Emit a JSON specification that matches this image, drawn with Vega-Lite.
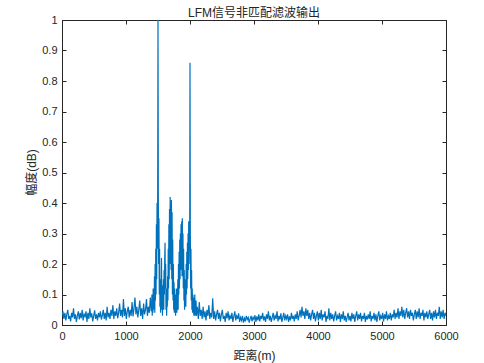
{
  "$schema": "https://vega.github.io/schema/vega-lite/v6.json",
  "width": 384,
  "height": 305,
  "autosize": {"type": "none"},
  "padding": {"left": 62, "top": 20, "right": 38, "bottom": 38},
  "background": "white",
  "title": {"text": "LFM信号非匹配滤波输出", "fontSize": 12, "font": "Liberation Sans, Noto Sans CJK SC", "fontWeight": "normal", "color": "#262626", "offset": 5, "dy": 11},
  "config": {
    "view": {"stroke": "#262626", "strokeWidth": 1},
    "axis": {"grid": false, "domainColor": "#262626", "tickColor": "#262626", "labelColor": "#262626", "titleColor": "#262626", "labelFont": "Liberation Sans", "titleFont": "Liberation Sans, Noto Sans CJK SC", "labelFontSize": 11, "titleFontSize": 12, "titleFontWeight": "normal", "tickSize": -4, "labelPadding": 9, "domainWidth": 1, "tickWidth": 1, "labelFlush": false}
  },
  "datasets": {
    "sig": [
{"x":0,"y":0.03},{"x":15,"y":0.045},{"x":30,"y":0.02},{"x":45,"y":0.04},{"x":60,"y":0.015},{"x":75,"y":0.035},{"x":90,"y":0.05},{"x":105,"y":0.02},{"x":120,"y":0.03},{"x":135,"y":0.012},{"x":150,"y":0.04},{"x":165,"y":0.025},{"x":180,"y":0.055},{"x":195,"y":0.02},{"x":210,"y":0.035},{"x":225,"y":0.01},{"x":240,"y":0.03},{"x":255,"y":0.045},{"x":270,"y":0.018},{"x":285,"y":0.04},{"x":300,"y":0.022},{"x":315,"y":0.05},{"x":330,"y":0.015},{"x":345,"y":0.035},{"x":360,"y":0.028},{"x":375,"y":0.045},{"x":390,"y":0.01},{"x":405,"y":0.04},{"x":420,"y":0.02},{"x":435,"y":0.055},{"x":450,"y":0.025},{"x":465,"y":0.038},{"x":480,"y":0.012},{"x":495,"y":0.03},{"x":510,"y":0.048},{"x":525,"y":0.02},{"x":540,"y":0.035},{"x":555,"y":0.015},{"x":570,"y":0.04},{"x":585,"y":0.025},{"x":600,"y":0.045},{"x":615,"y":0.018},{"x":630,"y":0.032},{"x":645,"y":0.05},{"x":660,"y":0.02},{"x":675,"y":0.04},{"x":690,"y":0.015},{"x":705,"y":0.06},{"x":720,"y":0.025},{"x":735,"y":0.04},{"x":750,"y":0.02},{"x":765,"y":0.05},{"x":780,"y":0.03},{"x":795,"y":0.065},{"x":810,"y":0.02},{"x":825,"y":0.045},{"x":840,"y":0.03},{"x":855,"y":0.055},{"x":870,"y":0.022},{"x":885,"y":0.04},{"x":900,"y":0.07},{"x":915,"y":0.03},{"x":930,"y":0.05},{"x":945,"y":0.025},{"x":960,"y":0.085},{"x":975,"y":0.03},{"x":990,"y":0.055},{"x":1005,"y":0.02},{"x":1020,"y":0.045},{"x":1035,"y":0.06},{"x":1050,"y":0.025},{"x":1065,"y":0.05},{"x":1080,"y":0.03},{"x":1095,"y":0.075},{"x":1110,"y":0.028},{"x":1125,"y":0.055},{"x":1140,"y":0.09},{"x":1155,"y":0.035},{"x":1170,"y":0.06},{"x":1185,"y":0.025},{"x":1200,"y":0.05},{"x":1215,"y":0.08},{"x":1230,"y":0.03},{"x":1245,"y":0.055},{"x":1260,"y":0.02},{"x":1275,"y":0.07},{"x":1290,"y":0.035},{"x":1305,"y":0.05},{"x":1320,"y":0.085},{"x":1335,"y":0.03},{"x":1350,"y":0.06},{"x":1365,"y":0.04},{"x":1380,"y":0.09},{"x":1395,"y":0.045},
{"x":1400,"y":0.05},{"x":1405,"y":0.1},{"x":1410,"y":0.03},{"x":1415,"y":0.08},{"x":1420,"y":0.04},{"x":1425,"y":0.12},{"x":1430,"y":0.05},{"x":1435,"y":0.1},{"x":1440,"y":0.06},{"x":1445,"y":0.16},{"x":1450,"y":0.04},{"x":1455,"y":0.2},{"x":1460,"y":0.08},{"x":1465,"y":0.25},{"x":1470,"y":0.1},{"x":1475,"y":0.33},{"x":1480,"y":0.15},{"x":1485,"y":0.4},{"x":1490,"y":0.25},{"x":1495,"y":0.43},{"x":1500,"y":1.0},{"x":1505,"y":0.42},{"x":1510,"y":0.2},{"x":1515,"y":0.35},{"x":1520,"y":0.1},{"x":1525,"y":0.25},{"x":1530,"y":0.06},{"x":1535,"y":0.15},{"x":1540,"y":0.04},{"x":1545,"y":0.12},{"x":1550,"y":0.08},{"x":1555,"y":0.22},{"x":1560,"y":0.05},{"x":1565,"y":0.13},{"x":1570,"y":0.03},{"x":1575,"y":0.1},{"x":1580,"y":0.06},{"x":1585,"y":0.15},{"x":1590,"y":0.05},{"x":1595,"y":0.18},{"x":1600,"y":0.1},{"x":1605,"y":0.22},{"x":1610,"y":0.27},{"x":1615,"y":0.12},{"x":1620,"y":0.2},{"x":1625,"y":0.05},{"x":1630,"y":0.12},{"x":1635,"y":0.03},{"x":1640,"y":0.1},{"x":1645,"y":0.06},{"x":1650,"y":0.16},{"x":1655,"y":0.08},{"x":1660,"y":0.25},{"x":1665,"y":0.12},{"x":1670,"y":0.33},{"x":1675,"y":0.15},{"x":1680,"y":0.38},{"x":1685,"y":0.2},{"x":1690,"y":0.42},{"x":1695,"y":0.25},{"x":1700,"y":0.4},{"x":1705,"y":0.18},{"x":1710,"y":0.41},{"x":1715,"y":0.15},{"x":1720,"y":0.37},{"x":1725,"y":0.1},{"x":1730,"y":0.28},{"x":1735,"y":0.08},{"x":1740,"y":0.2},{"x":1745,"y":0.05},{"x":1750,"y":0.14},{"x":1755,"y":0.04},{"x":1760,"y":0.12},{"x":1765,"y":0.06},{"x":1770,"y":0.1},{"x":1775,"y":0.03},{"x":1780,"y":0.09},{"x":1785,"y":0.05},{"x":1790,"y":0.12},{"x":1795,"y":0.04},{"x":1800,"y":0.1},{"x":1805,"y":0.07},{"x":1810,"y":0.15},{"x":1815,"y":0.05},{"x":1820,"y":0.2},{"x":1825,"y":0.1},{"x":1830,"y":0.24},{"x":1835,"y":0.12},{"x":1840,"y":0.28},{"x":1845,"y":0.15},{"x":1850,"y":0.3},{"x":1855,"y":0.18},{"x":1860,"y":0.33},{"x":1865,"y":0.2},{"x":1870,"y":0.34},{"x":1875,"y":0.16},{"x":1880,"y":0.35},{"x":1885,"y":0.22},{"x":1890,"y":0.3},{"x":1895,"y":0.12},{"x":1900,"y":0.25},{"x":1905,"y":0.08},{"x":1910,"y":0.18},{"x":1915,"y":0.05},{"x":1920,"y":0.12},{"x":1925,"y":0.07},{"x":1930,"y":0.15},{"x":1935,"y":0.06},{"x":1940,"y":0.2},{"x":1945,"y":0.1},{"x":1950,"y":0.24},{"x":1955,"y":0.12},{"x":1960,"y":0.27},{"x":1965,"y":0.15},{"x":1970,"y":0.3},{"x":1975,"y":0.18},{"x":1980,"y":0.34},{"x":1985,"y":0.2},{"x":1990,"y":0.3},{"x":1995,"y":0.25},{"x":2000,"y":0.86},{"x":2005,"y":0.3},{"x":2010,"y":0.12},{"x":2015,"y":0.25},{"x":2020,"y":0.08},{"x":2025,"y":0.18},{"x":2030,"y":0.05},{"x":2035,"y":0.12},{"x":2040,"y":0.04},{"x":2045,"y":0.1},{"x":2050,"y":0.06},{"x":2055,"y":0.09},{"x":2060,"y":0.03},{"x":2065,"y":0.08},{"x":2070,"y":0.05},{"x":2075,"y":0.1},{"x":2080,"y":0.03},{"x":2085,"y":0.07},{"x":2090,"y":0.04},{"x":2095,"y":0.08},{"x":2100,"y":0.03},
{"x":2115,"y":0.06},{"x":2130,"y":0.02},{"x":2145,"y":0.075},{"x":2160,"y":0.03},{"x":2175,"y":0.05},{"x":2190,"y":0.02},{"x":2205,"y":0.06},{"x":2220,"y":0.025},{"x":2235,"y":0.045},{"x":2250,"y":0.015},{"x":2265,"y":0.05},{"x":2280,"y":0.03},{"x":2295,"y":0.065},{"x":2310,"y":0.02},{"x":2325,"y":0.04},{"x":2340,"y":0.025},{"x":2355,"y":0.088},{"x":2370,"y":0.02},{"x":2385,"y":0.045},{"x":2400,"y":0.015},{"x":2415,"y":0.035},{"x":2430,"y":0.05},{"x":2445,"y":0.02},{"x":2460,"y":0.04},{"x":2475,"y":0.012},{"x":2490,"y":0.035},{"x":2505,"y":0.05},{"x":2520,"y":0.02},{"x":2535,"y":0.03},{"x":2550,"y":0.01},{"x":2565,"y":0.04},{"x":2580,"y":0.022},{"x":2595,"y":0.045},{"x":2610,"y":0.015},{"x":2625,"y":0.03},{"x":2640,"y":0.02},{"x":2655,"y":0.04},{"x":2670,"y":0.01},{"x":2685,"y":0.028},{"x":2700,"y":0.045},{"x":2715,"y":0.015},{"x":2730,"y":0.03},{"x":2745,"y":0.02},{"x":2760,"y":0.038},{"x":2775,"y":0.01},{"x":2790,"y":0.025},{"x":2805,"y":0.015},{"x":2820,"y":0.03},{"x":2835,"y":0.008},{"x":2850,"y":0.022},{"x":2865,"y":0.012},{"x":2880,"y":0.03},{"x":2895,"y":0.018},{"x":2910,"y":0.025},{"x":2925,"y":0.008},{"x":2940,"y":0.02},{"x":2955,"y":0.03},{"x":2970,"y":0.012},{"x":2985,"y":0.025},{"x":3000,"y":0.018},{"x":3015,"y":0.032},{"x":3030,"y":0.01},{"x":3045,"y":0.028},{"x":3060,"y":0.015},{"x":3075,"y":0.035},{"x":3090,"y":0.012},{"x":3105,"y":0.03},{"x":3120,"y":0.02},{"x":3135,"y":0.04},{"x":3150,"y":0.015},{"x":3165,"y":0.028},{"x":3180,"y":0.01},{"x":3195,"y":0.035},{"x":3210,"y":0.02},{"x":3225,"y":0.045},{"x":3240,"y":0.015},{"x":3255,"y":0.03},{"x":3270,"y":0.01},{"x":3285,"y":0.025},{"x":3300,"y":0.04},{"x":3315,"y":0.015},{"x":3330,"y":0.03},{"x":3345,"y":0.02},{"x":3360,"y":0.045},{"x":3375,"y":0.012},{"x":3390,"y":0.03},{"x":3405,"y":0.018},{"x":3420,"y":0.038},{"x":3435,"y":0.01},{"x":3450,"y":0.025},{"x":3465,"y":0.04},{"x":3480,"y":0.015},{"x":3495,"y":0.03},{"x":3510,"y":0.02},{"x":3525,"y":0.035},{"x":3540,"y":0.01},{"x":3555,"y":0.028},{"x":3570,"y":0.015},{"x":3585,"y":0.04},{"x":3600,"y":0.02},{"x":3615,"y":0.03},{"x":3630,"y":0.012},{"x":3645,"y":0.035},{"x":3660,"y":0.02},{"x":3675,"y":0.045},{"x":3690,"y":0.015},{"x":3705,"y":0.03},{"x":3720,"y":0.05},{"x":3735,"y":0.025},{"x":3750,"y":0.06},{"x":3765,"y":0.03},{"x":3780,"y":0.045},{"x":3795,"y":0.02},{"x":3810,"y":0.055},{"x":3825,"y":0.03},{"x":3840,"y":0.05},{"x":3855,"y":0.02},{"x":3870,"y":0.04},{"x":3885,"y":0.015},{"x":3900,"y":0.035},{"x":3915,"y":0.05},{"x":3930,"y":0.02},{"x":3945,"y":0.04},{"x":3960,"y":0.012},{"x":3975,"y":0.03},{"x":3990,"y":0.045},{"x":4005,"y":0.015},{"x":4020,"y":0.04},{"x":4035,"y":0.02},{"x":4050,"y":0.05},{"x":4065,"y":0.015},{"x":4080,"y":0.035},{"x":4095,"y":0.025},{"x":4110,"y":0.045},{"x":4125,"y":0.01},{"x":4140,"y":0.03},{"x":4155,"y":0.02},{"x":4170,"y":0.055},{"x":4185,"y":0.015},{"x":4200,"y":0.04},{"x":4215,"y":0.02},{"x":4230,"y":0.035},{"x":4245,"y":0.012},{"x":4260,"y":0.03},{"x":4275,"y":0.045},{"x":4290,"y":0.015},{"x":4305,"y":0.03},{"x":4320,"y":0.02},{"x":4335,"y":0.04},{"x":4350,"y":0.01},{"x":4365,"y":0.035},{"x":4380,"y":0.02},{"x":4395,"y":0.045},{"x":4410,"y":0.015},{"x":4425,"y":0.03},{"x":4440,"y":0.01},{"x":4455,"y":0.025},{"x":4470,"y":0.04},{"x":4485,"y":0.015},{"x":4500,"y":0.03},{"x":4515,"y":0.012},{"x":4530,"y":0.04},{"x":4545,"y":0.02},{"x":4560,"y":0.035},{"x":4575,"y":0.01},{"x":4590,"y":0.03},{"x":4605,"y":0.045},{"x":4620,"y":0.015},{"x":4635,"y":0.035},{"x":4650,"y":0.02},{"x":4665,"y":0.04},{"x":4680,"y":0.012},{"x":4695,"y":0.03},{"x":4710,"y":0.02},{"x":4725,"y":0.04},{"x":4740,"y":0.01},{"x":4755,"y":0.03},{"x":4770,"y":0.018},{"x":4785,"y":0.035},{"x":4800,"y":0.02},{"x":4815,"y":0.045},{"x":4830,"y":0.012},{"x":4845,"y":0.03},{"x":4860,"y":0.02},{"x":4875,"y":0.04},{"x":4890,"y":0.015},{"x":4905,"y":0.035},{"x":4920,"y":0.01},{"x":4935,"y":0.03},{"x":4950,"y":0.045},{"x":4965,"y":0.015},{"x":4980,"y":0.03},{"x":4995,"y":0.02},{"x":5010,"y":0.04},{"x":5025,"y":0.012},{"x":5040,"y":0.035},{"x":5055,"y":0.02},{"x":5070,"y":0.045},{"x":5085,"y":0.015},{"x":5100,"y":0.03},{"x":5115,"y":0.02},{"x":5130,"y":0.04},{"x":5145,"y":0.015},{"x":5160,"y":0.035},{"x":5175,"y":0.025},{"x":5190,"y":0.05},{"x":5205,"y":0.02},{"x":5220,"y":0.04},{"x":5235,"y":0.025},{"x":5250,"y":0.055},{"x":5265,"y":0.02},{"x":5280,"y":0.045},{"x":5295,"y":0.03},{"x":5310,"y":0.06},{"x":5325,"y":0.025},{"x":5340,"y":0.05},{"x":5355,"y":0.02},{"x":5370,"y":0.04},{"x":5385,"y":0.055},{"x":5400,"y":0.025},{"x":5415,"y":0.045},{"x":5430,"y":0.02},{"x":5445,"y":0.05},{"x":5460,"y":0.03},{"x":5475,"y":0.04},{"x":5490,"y":0.015},{"x":5505,"y":0.035},{"x":5520,"y":0.05},{"x":5535,"y":0.02},{"x":5550,"y":0.045},{"x":5565,"y":0.025},{"x":5580,"y":0.055},{"x":5595,"y":0.02},{"x":5610,"y":0.04},{"x":5625,"y":0.03},{"x":5640,"y":0.05},{"x":5655,"y":0.015},{"x":5670,"y":0.04},{"x":5685,"y":0.025},{"x":5700,"y":0.045},{"x":5715,"y":0.02},{"x":5730,"y":0.035},{"x":5745,"y":0.05},{"x":5760,"y":0.02},{"x":5775,"y":0.04},{"x":5790,"y":0.015},{"x":5805,"y":0.045},{"x":5820,"y":0.025},{"x":5835,"y":0.05},{"x":5850,"y":0.02},{"x":5865,"y":0.04},{"x":5880,"y":0.03},{"x":5895,"y":0.06},{"x":5910,"y":0.02},{"x":5925,"y":0.045},{"x":5940,"y":0.025},{"x":5955,"y":0.05},{"x":5970,"y":0.02},{"x":5985,"y":0.04},{"x":6000,"y":0.03}
    ]
  },
  "data": {"name": "sig"},
  "layer": [
    {
      "mark": {"type": "line", "color": "#0072BD", "strokeWidth": 1.2, "clip": true},
      "encoding": {
        "x": {"field": "x", "type": "quantitative", "scale": {"domain": [0, 6000], "nice": false, "zero": false},
              "axis": {"orient": "bottom", "values": [0, 1000, 2000, 3000, 4000, 5000, 6000], "format": "d", "title": "距离(m)", "titleX": 192, "titleY": 30, "titleBaseline": "middle", "titleAlign": "center"}},
        "y": {"field": "y", "type": "quantitative", "scale": {"domain": [0, 1], "nice": false, "zero": false},
              "axis": {"orient": "left", "values": [0, 0.1, 0.2, 0.3, 0.4, 0.5, 0.6, 0.7, 0.8, 0.9, 1], "format": "~g", "title": "幅度(dB)", "titleX": -31, "titleY": 152, "titleAngle": 270, "titleBaseline": "middle", "titleAlign": "center"}}
      }
    },
    {
      "mark": {"type": "line", "strokeOpacity": 0},
      "encoding": {
        "x": {"field": "x", "type": "quantitative", "scale": {"domain": [0, 6000], "nice": false, "zero": false}, "axis": {"orient": "top", "values": [0, 1000, 2000, 3000, 4000, 5000, 6000], "labels": false, "title": null}},
        "y": {"field": "y", "type": "quantitative", "scale": {"domain": [0, 1], "nice": false, "zero": false}, "axis": {"orient": "right", "values": [0, 0.1, 0.2, 0.3, 0.4, 0.5, 0.6, 0.7, 0.8, 0.9, 1], "labels": false, "title": null}}
      }
    }
  ],
  "resolve": {"axis": {"x": "independent", "y": "independent"}}
}
